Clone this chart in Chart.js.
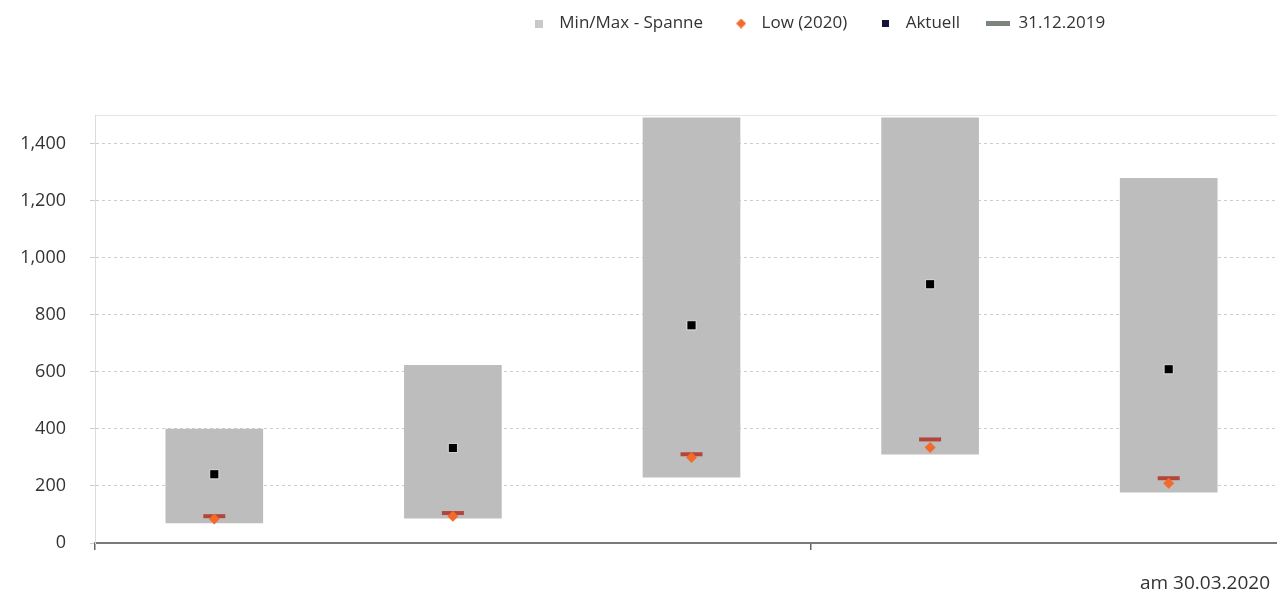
<!DOCTYPE html>
<html>
<head>
<meta charset="utf-8">
<script src="https://cdn.jsdelivr.net/npm/chart.js@4/dist/chart.umd.min.js"></script>
<style>
    html, body { margin: 0; padding: 0; background: #fff; overflow: hidden; }
    #wrap { position: relative; width: 1288px; height: 594px; }
    #note { position: absolute; right: 7px; top: 569px; font: 19px "Open Sans", sans-serif; color: #333; }
</style>
</head>
<body>
<div id="wrap"><canvas id="chart" width="1288" height="594"></canvas></div>
<div id="note">am 30.03.2020</div>
<script>
// five instruments, no category names shown in the picture
const categories = ['1', '2', '3', '4', '5'];
const rangeMin = [70, 87, 231, 311, 178];
const rangeMax = [399, 623, 1490, 1490, 1278];
const actual = [241, 333, 763, 907, 609];
const low2020 = [84, 94, 300, 335, 209];
const end2019 = [94, 105, 311, 363, 227];
const legendNames = ['Min/Max - Spanne', 'Low (2020)', 'Aktuell', '31.12.2019'];
const yTicks = [0, 200, 400, 600, 800, 1000, 1200, 1400];

const FONT = '"Open Sans", sans-serif';

function makeMarker(w, h, draw) {
    const c = document.createElement('canvas');
    c.width = w;
    c.height = h;
    draw(c.getContext('2d'));
    return c;
}

const legendMarkers = [
    makeMarker(8, 8, (g) => { g.fillStyle = '#c9c9c9'; g.fillRect(0, 0, 8, 8); }),
    makeMarker(10, 10, (g) => {
        g.fillStyle = '#f26b2b';
        g.beginPath();
        g.moveTo(5, 0); g.lineTo(10, 5); g.lineTo(5, 10); g.lineTo(0, 5);
        g.closePath();
        g.fill();
    }),
    makeMarker(7, 7, (g) => { g.fillStyle = '#14143a'; g.fillRect(0, 0, 7, 7); }),
    makeMarker(24, 5, (g) => { g.fillStyle = '#7b857d'; g.fillRect(0, 0, 24, 5); })
];

// push the legend to the right, like in the original
const legendShift = {
    id: 'legendShift',
    afterLayout(chart) {
        const lg = chart.legend;
        lg.left += 172;
        lg.right += 172;
        lg.top = -11;
    }
};

new Chart(document.getElementById('chart'), {
    data: {
        labels: categories,
        datasets: [
            {
                type: 'line',
                label: legendNames[2],
                data: actual,
                showLine: false,
                pointStyle: 'rect',
                pointRadius: 6.4,
                backgroundColor: '#000',
                borderColor: 'rgba(255,255,255,0.7)',
                borderWidth: 1,
                order: 1
            },
            {
                type: 'line',
                label: legendNames[1],
                data: low2020,
                showLine: false,
                pointStyle: 'rectRot',
                pointRadius: 5.5,
                backgroundColor: '#f26b2b',
                borderColor: '#f26b2b',
                borderWidth: 0,
                order: 2
            },
            {
                type: 'line',
                label: legendNames[3],
                data: end2019,
                showLine: false,
                pointStyle: 'line',
                pointRadius: 11,
                borderColor: '#b2463c',
                borderWidth: 4,
                order: 3
            },
            {
                type: 'bar',
                label: legendNames[0],
                data: rangeMin.map((lo, i) => [lo, rangeMax[i]]),
                backgroundColor: '#bdbdbd',
                barThickness: 97,
                borderWidth: 0,
                order: 4
            }
        ]
    },
    options: {
        responsive: false,
        animation: false,
        layout: {
            autoPadding: false,
            padding: { top: 62, right: 0, bottom: 0, left: 0 }
        },
        plugins: {
            tooltip: { enabled: false },
            legend: {
                position: 'top',
                align: 'center',
                labels: {
                    usePointStyle: true,
                    pointStyleWidth: 24,
                    padding: 26,
                    color: '#333',
                    font: { family: FONT, size: 17 },
                    generateLabels: () => legendNames.map((text, i) => ({
                        text,
                        pointStyle: legendMarkers[i],
                        fillStyle: 'transparent',
                        strokeStyle: 'transparent',
                        lineWidth: 0,
                        hidden: false,
                        datasetIndex: i,
                        fontColor: '#333'
                    }))
                }
            }
        },
        scales: {
            x: {
                type: 'category',
                offset: true,
                afterFit: (s) => { s.height = 51; },
                ticks: { display: false },
                grid: {
                    drawOnChartArea: false,
                    tickLength: 7,
                    lineWidth: 1.5,
                    color: (ctx) => (ctx.index === 0 || ctx.index === 3) ? '#666' : 'transparent'
                },
                border: { color: '#7a7a7a', width: 2 }
            },
            y: {
                min: 0,
                max: 1500,
                afterFit: (s) => { s.width = 95; },
                afterBuildTicks: (s) => {
                    s.ticks = yTicks.map((value) => ({ value })).concat([{ value: 1500 }]);
                },
                ticks: {
                    padding: 24,
                    color: '#333',
                    font: { family: FONT, size: 18 },
                    callback: (value) => value === 1500 ? '' : value.toLocaleString('en-US')
                },
                grid: {
                    tickLength: 5,
                    color: (ctx) => (ctx.tick && ctx.tick.value === 1500) ? '#e4e4e4' : '#cdcdcd',
                    tickColor: (ctx) => (ctx.tick && ctx.tick.value === 1500) ? 'transparent' : '#cdcdcd'
                },
                border: {
                    color: '#dcdcdc',
                    width: 1,
                    dash: (ctx) => (ctx.type === 'tick' && ctx.tick.value !== 1500) ? [3, 3] : []
                }
            }
        }
    },
    plugins: [legendShift]
});
</script>
</body>
</html>
